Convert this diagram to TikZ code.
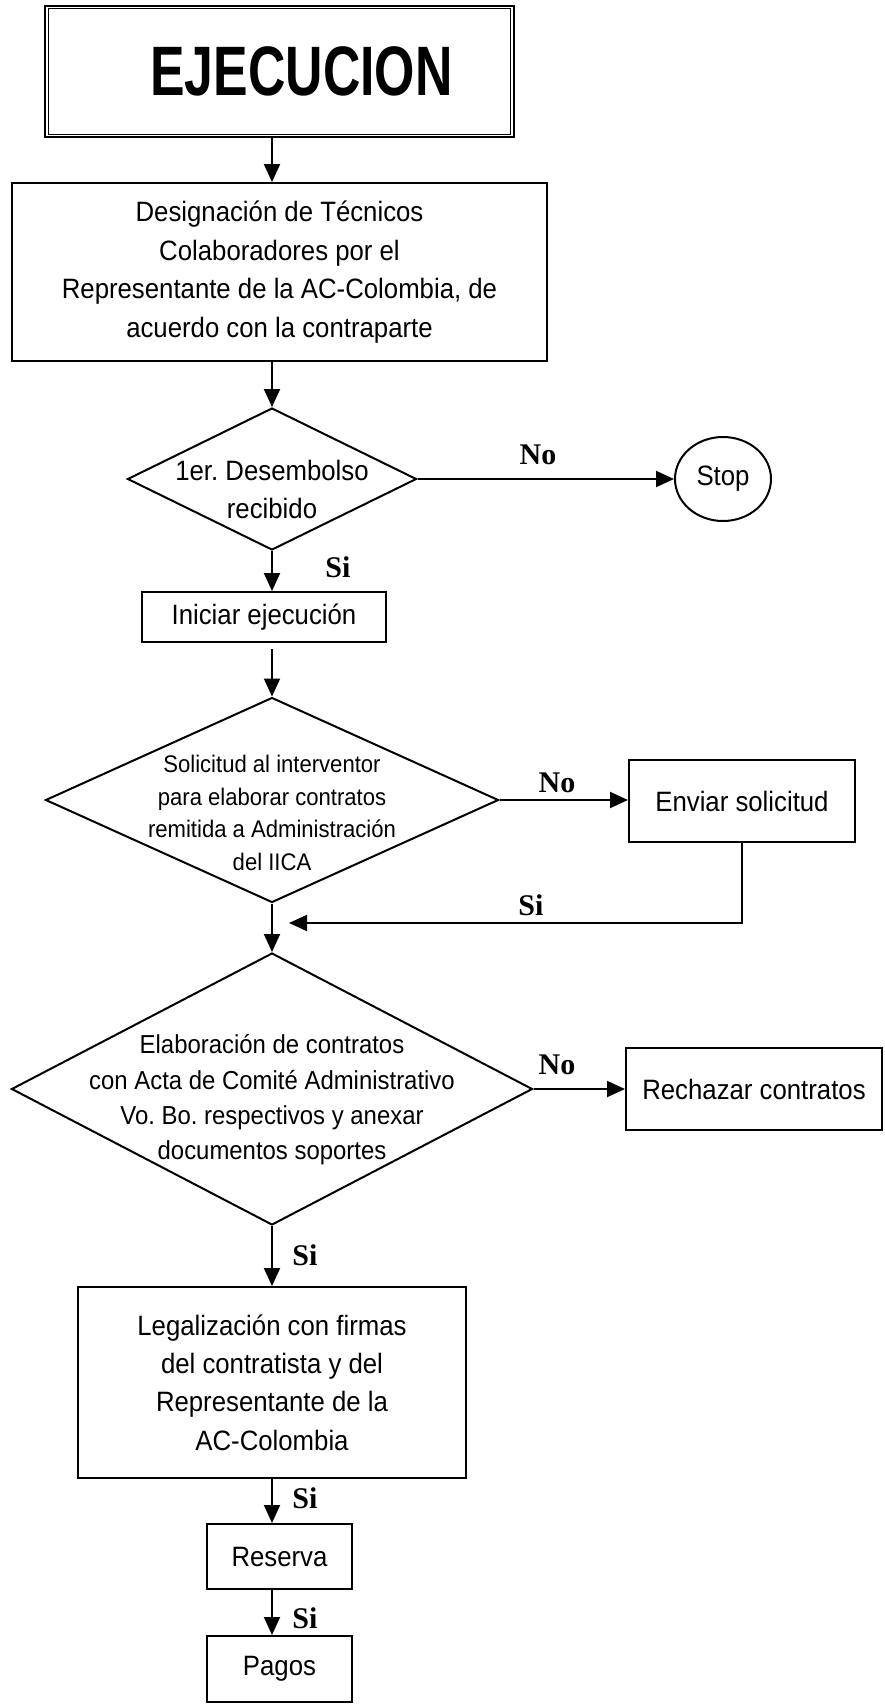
\documentclass[tikz,border=0pt]{standalone}
\usepackage{fontspec}
\setmainfont{Liberation Sans}[FakeStretch=0.92]
\newfontfamily\titlefont{Liberation Sans}[FakeStretch=0.74]
\newfontfamily\lblfont{Liberation Serif}
\usetikzlibrary{shapes.geometric,arrows.meta}
\frenchspacing
\begin{document}
\frenchspacing
\begin{tikzpicture}[x=0.5pt,y=-0.5pt,
  line width=1pt,
  box/.style={draw, rectangle, inner sep=0pt, align=center, font=\fontsize{14}{19.2}\selectfont},
  dia/.style={draw, diamond, inner sep=0pt},
  arr/.style={-{Triangle[length=9pt,width=8pt]}},
  lbl/.style={font=\lblfont\bfseries\fontsize{15}{15}\selectfont, inner sep=0pt},
]
\useasboundingbox (0,0) rectangle (884,1708);

% title
\node[draw, line width=1.4pt, minimum width=234.5pt, minimum height=65.5pt, inner sep=0pt,
  font=\titlefont\bfseries\fontsize{35}{35}\selectfont] (title) at (279.5,71.5) {\hspace*{22pt}EJECUCION};
\draw[line width=0.6pt] ([xshift=2.5pt,yshift=-1.8pt]title.north west) rectangle ([xshift=-2.5pt,yshift=1.8pt]title.south east);

\node[box, minimum width=267.5pt, minimum height=89pt] (desig) at (279.5,272)
  {Designación de Técnicos\\Colaboradores por el\\Representante de la AC-Colombia, de\\acuerdo con la contraparte};

\node[dia, minimum width=144.5pt, minimum height=71pt,
  label={[font=\fontsize{14}{19}\selectfont, align=center, yshift=-5pt]center:{1er. Desembolso\\recibido}}] (d1) at (272,479) {};

\node[draw, ellipse, minimum width=48pt, minimum height=42pt, inner sep=0pt, font=\fontsize{14}{14}\selectfont] (stop) at (723,479) {Stop};

\node[box, minimum width=122pt, minimum height=25pt] (init) at (264,617) {Iniciar ejecución};

\node[dia, minimum width=226.5pt, minimum height=102.5pt,
  label={[font=\fontsize{12}{16.2}\selectfont, align=center, yshift=-6.5pt]center:{Solicitud al interventor\\para elaborar contratos\\remitida a Administración\\del IICA}}] (d2) at (272,800) {};

\node[box, minimum width=113pt, minimum height=41pt] (env) at (742,801) {Enviar solicitud};

\node[dia, minimum width=260.5pt, minimum height=136pt,
  label={[font=\fontsize{13}{17.7}\selectfont, align=center, yshift=-5.5pt]center:{Elaboración de contratos\\con Acta de Comité Administrativo\\Vo. Bo. respectivos y anexar\\documentos soportes}}] (d3) at (272,1089) {};

\node[box, minimum width=128pt, minimum height=41pt] (rech) at (754,1089) {Rechazar contratos};

\node[box, minimum width=194pt, minimum height=95.5pt] (legal) at (272,1382.5)
  {Legalización con firmas\\del contratista y del\\Representante de la\\AC-Colombia};

\node[box, minimum width=72.5pt, minimum height=32.5pt] (res) at (279.5,1556.5) {Reserva};
\node[box, minimum width=72.5pt, minimum height=33pt] (pagos) at (279.5,1669) {Pagos};

\coordinate (j) at (289,923);

% connectors
\draw[arr] (title.south -| d1.center) -- (desig.north -| d1.center);
\draw[arr] (desig.south -| d1.center) -- (d1.north);
\draw[arr] (d1.east) -- (stop.west);
\draw[arr] (d1.south) -- (init.north -| d1.center);
\draw[arr, shorten <=3pt] (init.south -| d2.north) -- (d2.north);
\draw[arr] (d2.east) -- (d2.east -| env.west);
\draw[arr] (env.south) |- (j);
\draw[arr] (d2.south) -- (d3.north);
\draw[arr] (d3.east) -- (d3.east -| rech.west);
\draw[arr] (d3.south) -- (legal.north);
\draw[arr] (legal.south) -- (res.north -| legal.south);
\draw[arr] (res.south -| legal.south) -- (pagos.north -| legal.south);

% labels
\node[lbl] (no1) at (538,455) {No};
\node[lbl] (si1) at (338,567) {Si};
\node[lbl] (no2) at (557,783) {No};
\node[lbl] (si2) at (531,905) {Si};
\node[lbl] (no3) at (557,1065) {No};
\node[lbl] (si3) at (305,1255) {Si};
\node[lbl] (si4) at (305,1498) {Si};
\node[lbl] (si5) at (305,1618) {Si};
\end{tikzpicture}
\end{document}
